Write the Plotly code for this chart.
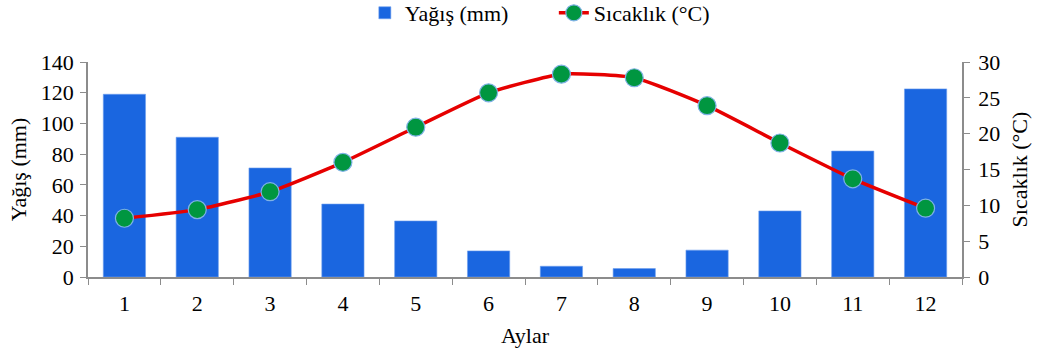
import plotly.graph_objects as go

months = ["1", "2", "3", "4", "5", "6", "7", "8", "9", "10", "11", "12"]
precip = [119, 91, 71, 47.5, 36.5, 17, 7, 5.5, 17.5, 43, 82, 122.5]
temp = [8.2, 9.4, 11.9, 16.0, 20.9, 25.7, 28.3, 27.8, 23.9, 18.7, 13.7, 9.6]

FF = "Liberation Serif"
axis_col = "#8c8c8c"
TF = dict(family=FF, size=22, color="#000000")

fig = go.Figure()
fig.add_trace(go.Bar(
    x=months, y=precip, name="Yağış (mm)",
    marker=dict(color="#1A66E0", line=dict(color="#6FA0EE", width=0.6)),
    yaxis="y",
))
fig.add_trace(go.Scatter(
    x=months, y=temp, name="Sıcaklık (°C)", mode="lines+markers",
    line=dict(color="#E60000", width=3.5, shape="spline", smoothing=0.5),
    marker=dict(color="#009640", size=18, line=dict(color="#7FB2E5", width=1.2)),
    yaxis="y2",
))

fig.update_layout(
    width=1038, height=351,
    margin=dict(l=88, r=76, t=62, b=74, autoexpand=False),
    paper_bgcolor="white", plot_bgcolor="white",
    font=TF,
    bargap=0.42,
    showlegend=True,
    legend=dict(orientation="h", x=0.533, xanchor="center", y=1.228, yanchor="middle",
                font=TF, entrywidth=144, entrywidthmode="pixels", tracegroupgap=0,
                traceorder="normal", bgcolor="rgba(0,0,0,0)"),
    xaxis=dict(
        type="category", range=[-0.5, 11.5], automargin=False,
        showline=True, linecolor=axis_col, linewidth=1.5,
        ticks="outside", tickson="boundaries", ticklen=6, tickcolor=axis_col,
        ticklabelstandoff=6,
        showgrid=False, zeroline=False,
        title=dict(text="Aylar", font=TF, standoff=12),
        tickfont=TF,
    ),
    yaxis=dict(
        range=[0, 140], dtick=20, tick0=0, automargin=False,
        showline=True, linecolor=axis_col, linewidth=1.5,
        ticks="outside", ticklen=6, tickcolor=axis_col,
        ticklabelstandoff=2,
        showgrid=False, zeroline=False,
        title=dict(text="Yağış (mm)", font=TF, standoff=8),
        tickfont=TF,
    ),
    yaxis2=dict(
        range=[0, 30], dtick=5, tick0=0, overlaying="y", side="right", automargin=False,
        showline=True, linecolor=axis_col, linewidth=1.5,
        ticks="outside", ticklen=6, tickcolor=axis_col,
        ticklabelstandoff=4,
        showgrid=False, zeroline=False,
        title=dict(text="Sıcaklık (°C)", font=TF, standoff=12),
        tickfont=TF,
    ),
)

fig.write_html("out.html", config={"displayModeBar": False},
               post_script="document.body.style.margin='0';")
